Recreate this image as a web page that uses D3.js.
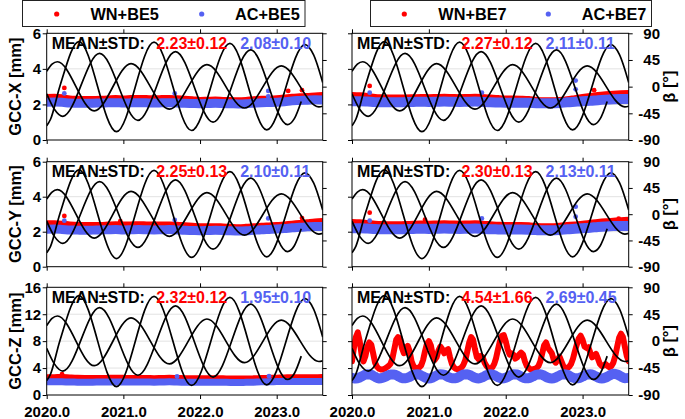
<!DOCTYPE html>
<html><head><meta charset="utf-8">
<script src="https://cdn.jsdelivr.net/npm/d3@7"></script>
<style>
body{margin:0;background:#fff;}
svg{display:block;font-family:"Liberation Sans",Arial,Helvetica,sans-serif;font-weight:bold;}
</style></head><body>
<svg id="c" width="685" height="419"></svg>
<script>
// ---------------- data ----------------
const tStart = 2020.0, tEnd = 2023.6;
const years = [2020.0, 2021.0, 2022.0, 2023.0];
const yearLabels = ["2020.0", "2021.0", "2022.0", "2023.0"];
const betaTicks = [-90, -45, 0, 45, 90];
const ticksXY = [0, 2, 4, 6];
const ticksZ = [0, 4, 8, 12, 16];
const components = ["X", "Y", "Z"];
const legendWN = ["WN+BE5", "WN+BE7"];
const legendAC = ["AC+BE5", "AC+BE7"];
const statsWN = [["2.23±0.12", "2.27±0.12"], ["2.25±0.13", "2.30±0.13"], ["2.32±0.12", "4.54±1.66"]];
const statsAC = [["2.08±0.10", "2.11±0.11"], ["2.10±0.11", "2.13±0.11"], ["1.95±0.10", "2.69±0.45"]];

// beta angle curves (key points: [decimal year, beta deg])
const betaA = [[2020.0, 26], [2020.07, 38], [2020.14, 42], [2020.62, -41], [2021.10, 39], [2021.60, -38], [2022.09, 37], [2022.58, -36], [2023.06, 35], [2023.55, -34], [2023.6, -33]];
const betaB = [[2020.0, -66], [2020.05, -55], [2020.17, 0], [2020.42, 76], [2020.91, -76], [2021.40, 75], [2021.89, -74], [2022.39, 73], [2022.87, -73], [2023.37, 71], [2023.48, 54], [2023.6, 7]];
const betaC = [[2020.0, -12], [2020.1, -38], [2020.21, -50], [2020.69, 56], [2021.19, -57], [2021.68, 59], [2022.17, -60], [2022.66, 62], [2023.14, -64], [2023.23, -54], [2023.32, -25]];

// GCC series, 0.1-yr sampling from 2020.0 (band centre, mm)
const wnX5 = [2.36,2.37,2.35,2.28,2.26,2.25,2.25,2.26,2.28,2.31,2.28,2.30,2.31,2.30,2.29,2.30,2.31,2.29,2.26,2.24,2.20,2.21,2.22,2.20,2.19,2.18,2.20,2.24,2.26,2.27,2.29,2.33,2.38,2.40,2.42,2.45,2.47];
const acX5 = [2.12,2.13,2.12,2.08,2.07,2.06,2.07,2.08,2.09,2.10,2.08,2.09,2.10,2.09,2.08,2.09,2.10,2.08,2.06,2.05,2.04,2.05,2.06,2.05,2.04,2.03,2.04,2.07,2.10,2.11,2.12,2.15,2.20,2.22,2.24,2.26,2.25];
const wnX7 = [2.48,2.46,2.42,2.36,2.34,2.33,2.33,2.34,2.35,2.36,2.35,2.36,2.37,2.36,2.35,2.36,2.37,2.36,2.33,2.30,2.28,2.28,2.27,2.25,2.20,2.18,2.18,2.20,2.24,2.30,2.36,2.42,2.48,2.52,2.55,2.57,2.58];
const acX7 = [2.18,2.18,2.16,2.13,2.12,2.12,2.12,2.13,2.14,2.15,2.14,2.15,2.16,2.15,2.14,2.15,2.16,2.14,2.12,2.11,2.10,2.10,2.10,2.09,2.07,2.06,2.06,2.08,2.12,2.15,2.18,2.20,2.24,2.27,2.29,2.30,2.30];
const wnY5 = [2.42,2.42,2.40,2.36,2.33,2.32,2.32,2.33,2.35,2.37,2.35,2.36,2.37,2.36,2.35,2.36,2.36,2.34,2.31,2.28,2.25,2.25,2.26,2.24,2.22,2.20,2.22,2.25,2.28,2.30,2.32,2.36,2.40,2.44,2.48,2.52,2.55];
const acY5 = [2.14,2.15,2.13,2.10,2.09,2.08,2.09,2.10,2.11,2.12,2.10,2.11,2.12,2.11,2.10,2.11,2.12,2.10,2.08,2.07,2.06,2.07,2.08,2.07,2.05,2.04,2.05,2.08,2.11,2.13,2.15,2.18,2.22,2.25,2.28,2.30,2.30];
const wnY7 = [2.50,2.48,2.44,2.40,2.38,2.37,2.37,2.38,2.40,2.41,2.40,2.41,2.42,2.41,2.40,2.41,2.42,2.40,2.37,2.34,2.32,2.32,2.33,2.31,2.27,2.25,2.25,2.28,2.32,2.36,2.40,2.45,2.50,2.54,2.57,2.60,2.62];
const acY7 = [2.20,2.20,2.18,2.15,2.14,2.14,2.14,2.15,2.16,2.17,2.16,2.17,2.18,2.17,2.16,2.17,2.18,2.16,2.14,2.13,2.12,2.12,2.12,2.11,2.09,2.08,2.08,2.10,2.14,2.17,2.20,2.23,2.27,2.30,2.32,2.33,2.33];
const wnZ5 = [2.70,2.72,2.75,2.68,2.62,2.60,2.60,2.60,2.62,2.65,2.62,2.60,2.60,2.60,2.58,2.60,2.62,2.60,2.58,2.56,2.55,2.55,2.56,2.55,2.52,2.52,2.52,2.55,2.60,2.62,2.65,2.68,2.72,2.72,2.70,2.72,2.75];
const acZ5 = [1.95,1.97,1.95,1.93,1.91,1.90,1.91,1.92,1.93,1.93,1.92,1.92,1.93,1.92,1.91,1.93,1.95,1.92,1.90,1.89,1.88,1.89,1.90,1.89,1.87,1.87,1.88,1.91,1.95,1.97,1.99,2.00,2.01,2.00,1.99,2.00,2.01];
// BE7 Z: WN at 0.025-yr sampling, AC at 0.05-yr sampling
const wnZ7 = [
5.0,7.0,8.6,9.3,8.0,6.0,5.0,5.8,7.2,7.8,
7.5,6.2,4.8,4.2,3.9,3.8,3.8,3.9,4.1,4.3,
4.6,5.4,6.8,8.2,8.6,8.4,7.0,6.2,6.8,7.3,
6.5,5.0,4.3,4.0,4.0,4.1,4.4,5.2,6.5,7.6,
8.0,7.4,6.0,5.2,5.6,6.6,7.2,6.8,6.2,6.6,
6.8,5.6,4.6,4.1,3.9,3.8,3.9,4.1,4.5,5.2,
6.5,7.8,8.6,8.2,6.8,5.6,5.3,5.8,5.6,4.8,
4.3,4.0,3.9,4.1,4.6,5.5,6.8,8.0,8.8,8.9,
8.0,6.8,6.0,6.2,6.0,5.4,5.6,6.0,6.3,6.0,
5.0,4.3,4.0,3.8,3.8,3.9,4.0,4.3,5.0,6.2,
7.4,7.8,7.0,6.6,6.2,5.2,4.8,5.2,5.7,5.0,
4.3,4.0,4.0,4.2,4.6,5.4,6.5,7.5,8.4,8.8,
8.2,7.2,7.0,7.1,6.3,5.6,5.8,6.1,5.4,4.6,
4.3,4.4,4.6,4.3,4.1,4.3,4.8,5.8,7.2,8.5,
9.1,8.6,7.2,5.8,5.0];
const acZ7 = [
2.55,2.45,2.60,2.90,3.10,3.00,2.70,2.45,2.55,2.80,
3.05,3.05,2.80,2.50,2.50,2.70,3.00,3.10,2.90,2.60,
2.45,2.60,2.90,3.10,3.00,2.70,2.50,2.50,2.75,3.05,
3.10,2.85,2.55,2.45,2.65,2.95,3.10,2.95,2.65,2.45,
2.55,2.85,3.10,3.05,2.75,2.50,2.50,2.75,3.00,3.10,
2.85,2.55,2.45,2.60,2.90,3.10,3.00,2.70,2.50,2.50,
2.75,3.00,3.10,2.90,2.60,2.45,2.60,2.90,3.15,3.05,
2.75,2.50,2.55];
// isolated outlier points [year, mm]
const wnX5Out = [[2020.23, 2.93], [2023.15, 2.76], [2023.33, 2.80]];
const acX5Out = [[2020.23, 2.62], [2021.67, 2.62], [2022.89, 2.76], [2022.89, 2.45]];
const wnX7Out = [[2020.23, 3.04], [2023.15, 2.80]];
const acX7Out = [[2020.23, 2.66], [2021.69, 2.66], [2022.91, 3.34], [2022.91, 2.85]];
const wnY5Out = [[2020.23, 2.90], [2020.96, 2.60], [2023.33, 2.78]];
const acY5Out = [[2020.23, 2.63], [2021.67, 2.67], [2022.89, 2.76]];
const wnY7Out = [[2020.23, 3.09], [2020.95, 2.69], [2023.47, 2.75]];
const acY7Out = [[2020.23, 2.63], [2021.69, 2.76], [2022.91, 3.43], [2022.91, 2.86]];
const wnZ5Out = [[2020.20, 3.10]];
const acZ5Out = [[2021.70, 2.75], [2022.90, 2.80]];
const wnZ7Out = [];
const acZ7Out = [];

// ---------------- panel table ----------------
const panels = [
  {row:0, col:0, yMax:6,  ticks:ticksXY, wn:wnX5, ac:acX5, wnStep:0.1, acStep:0.1, wnOut:wnX5Out, acOut:acX5Out, wnW:8, acW:9, wnLinear:false, acLinear:false},
  {row:0, col:1, yMax:6,  ticks:ticksXY, wn:wnX7, ac:acX7, wnStep:0.1, acStep:0.1, wnOut:wnX7Out, acOut:acX7Out, wnW:8, acW:10, wnLinear:false, acLinear:false},
  {row:1, col:0, yMax:6,  ticks:ticksXY, wn:wnY5, ac:acY5, wnStep:0.1, acStep:0.1, wnOut:wnY5Out, acOut:acY5Out, wnW:8, acW:9, wnLinear:false, acLinear:false},
  {row:1, col:1, yMax:6,  ticks:ticksXY, wn:wnY7, ac:acY7, wnStep:0.1, acStep:0.1, wnOut:wnY7Out, acOut:acY7Out, wnW:8, acW:10, wnLinear:false, acLinear:false},
  {row:2, col:0, yMax:16, ticks:ticksZ,  wn:wnZ5, ac:acZ5, wnStep:0.1, acStep:0.1, wnOut:wnZ5Out, acOut:acZ5Out, wnW:5, acW:7, wnLinear:false, acLinear:false},
  {row:2, col:1, yMax:16, ticks:ticksZ,  wn:wnZ7, ac:acZ7, wnStep:0.025, acStep:0.05, wnOut:wnZ7Out, acOut:acZ7Out, wnW:6, acW:10, wnLinear:true, acLinear:false}
];

// ---------------- layout ----------------
const RED = "#ff0000", BLUE = "#5561f2", INK = "#000";
const colX = [[46.7, 322.7], [352, 628.7]];
const rowY = [[33.3, 140], [161.7, 266.7], [287.3, 395]];
const svg = d3.select("#c");
const defs = svg.append("defs");

function styleAxis(ax, size) {
  ax.attr("font-family", null).attr("font-size", null);
  ax.select(".domain").remove();
  ax.selectAll(".tick line").attr("stroke", INK).attr("stroke-width", 1);
  ax.selectAll("text").attr("font-size", size).attr("font-weight", "bold").attr("fill", INK);
}

panels.forEach((p, idx) => {
  const [x0, x1] = colX[p.col], [y0, y1] = rowY[p.row];
  const x = d3.scaleLinear().domain([tStart, tEnd]).range([x0, x1]);
  const yL = d3.scaleLinear().domain([0, p.yMax]).range([y1, y0]);
  const yR = d3.scaleLinear().domain([-90, 90]).range([y1, y0]);
  const g = svg.append("g");
  const cid = "clip" + idx;
  defs.append("clipPath").attr("id", cid).append("rect")
    .attr("x", x0).attr("y", y0).attr("width", x1 - x0).attr("height", y1 - y0);

  // grid
  g.append("g").selectAll("line").data(p.ticks.slice(1, -1)).join("line")
    .attr("x1", x0).attr("x2", x1).attr("y1", d => yL(d)).attr("y2", d => yL(d))
    .attr("stroke", "#e2e2e2").attr("stroke-width", 1);

  const dg = g.append("g").attr("clip-path", `url(#${cid})`);
  const band = (vals, step, w, color, linear) => {
    const pts = vals.map((v, i) => [tStart + i * step, v]);
    const line = d3.line().x(d => x(d[0])).y(d => yL(d[1]))
      .curve(linear ? d3.curveLinear : d3.curveMonotoneX);
    dg.append("path").attr("d", line(pts)).attr("fill", "none").attr("stroke", color)
      .attr("stroke-width", w).attr("stroke-linejoin", "round").attr("stroke-linecap", "round");
  };
  const dots = (pts, color) => {
    dg.append("g").selectAll("circle").data(pts).join("circle")
      .attr("cx", d => x(d[0])).attr("cy", d => yL(d[1])).attr("r", 2.4).attr("fill", color);
  };
  band(p.wn, p.wnStep, p.wnW, RED, p.wnLinear);
  dots(p.wnOut, RED);
  band(p.ac, p.acStep, p.acW, BLUE, p.acLinear);
  dots(p.acOut, BLUE);

  // beta curves
  const bl = d3.line().x(d => x(d[0])).y(d => yR(d[1])).curve(d3.curveMonotoneX);
  [betaA, betaB, betaC].forEach(c => {
    dg.append("path").attr("d", bl(c)).attr("fill", "none").attr("stroke", INK)
      .attr("stroke-width", 1.7);
  });

  // stats text
  const ty = y0 + 15.3;
  g.append("text").attr("x", x0 + 5).attr("y", ty).attr("font-size", 16).attr("fill", INK).text("MEAN±STD:");
  g.append("text").attr("x", x0 + 109.5).attr("y", ty).attr("font-size", 16).attr("fill", RED).text(statsWN[p.row][p.col]);
  g.append("text").attr("x", x0 + 193.5).attr("y", ty).attr("font-size", 16).attr("fill", BLUE).text(statsAC[p.row][p.col]);

  // axes
  const left = g.append("g").attr("transform", `translate(${x0},0)`)
    .call(d3.axisLeft(yL).tickValues(p.ticks).tickSize(4).tickPadding(1.5)
      .tickFormat(p.col === 0 ? d => String(d) : () => ""));
  styleAxis(left, 15);
  const right = g.append("g").attr("transform", `translate(${x1},0)`)
    .call(d3.axisRight(yR).tickValues(betaTicks).tickSize(4)
      .tickFormat(p.col === 1 ? d => String(d) : () => ""));
  styleAxis(right, 15);
  right.selectAll("text").attr("text-anchor", "end").attr("x", 660 - x1);
  const top = g.append("g").attr("transform", `translate(0,${y0})`)
    .call(d3.axisTop(x).tickValues(years).tickSize(4).tickFormat(() => ""));
  styleAxis(top, 15);
  const bottom = g.append("g").attr("transform", `translate(0,${y1})`)
    .call(d3.axisBottom(x).tickValues(years).tickSize(4)
      .tickFormat(p.row === 2 ? (d, i) => yearLabels[i] : () => ""));
  styleAxis(bottom, 15);
  bottom.selectAll("text").attr("y", 416.5 - y1).attr("dy", 0);

  g.append("rect").attr("x", x0).attr("y", y0).attr("width", x1 - x0).attr("height", y1 - y0)
    .attr("fill", "none").attr("stroke", INK).attr("stroke-width", 1);

  // axis titles
  const cy = (y0 + y1) / 2;
  if (p.col === 0) {
    g.append("text").attr("transform", `translate(20.5,${cy}) rotate(-90)`)
      .attr("text-anchor", "middle").attr("font-size", 16.5).attr("fill", INK)
      .text(`GCC-${components[p.row]} [mm]`);
  } else {
    g.append("text").attr("transform", `translate(675,${cy}) rotate(-90)`)
      .attr("text-anchor", "middle").attr("font-size", 16.5).attr("fill", INK)
      .text("β [°]");
  }
});

// legends
const legBoxes = [{x: 22.5, w: 282.5, dotWN: 56.7, txtWN: 90.5, dotAC: 201.7, txtAC: 235},
                  {x: 370.5, w: 281, dotWN: 404.3, txtWN: 438.3, dotAC: 548.3, txtAC: 581.7}];
legBoxes.forEach((b, i) => {
  const lg = svg.append("g");
  lg.append("rect").attr("x", b.x).attr("y", 0.5).attr("width", b.w).attr("height", 26)
    .attr("fill", "#fff").attr("stroke", "#222").attr("stroke-width", 1);
  lg.append("circle").attr("cx", b.dotWN).attr("cy", 14).attr("r", 2.6).attr("fill", RED);
  lg.append("text").attr("x", b.txtWN).attr("y", 20).attr("font-size", 16.3).attr("fill", INK).text(legendWN[i]);
  lg.append("circle").attr("cx", b.dotAC).attr("cy", 14).attr("r", 2.6).attr("fill", BLUE);
  lg.append("text").attr("x", b.txtAC).attr("y", 20).attr("font-size", 16.3).attr("fill", INK).text(legendAC[i]);
});
</script>
</body></html>
